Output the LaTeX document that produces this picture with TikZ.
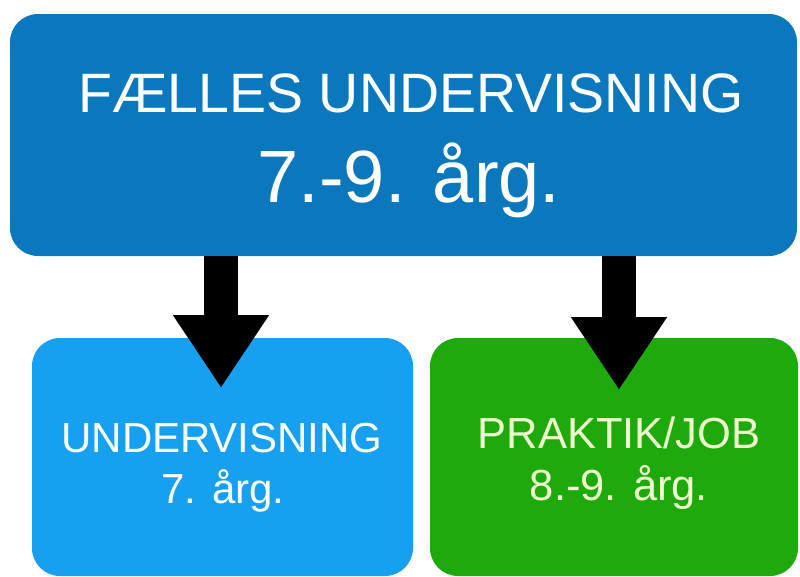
\documentclass[tikz,border=0pt]{standalone}
\usepackage{fontspec}
\setmainfont{Liberation Sans}
\usetikzlibrary{arrows.meta}
\definecolor{topblue}{RGB}{11,120,190}
\definecolor{lightblue}{RGB}{24,160,240}
\definecolor{grn}{RGB}{30,170,12}
\definecolor{grntext}{RGB}{236,255,204}
\begin{document}
\begin{tikzpicture}[x=1pt,y=-1pt,
 box/.style={rounded corners=28pt, inner sep=0pt, outer sep=0pt, draw=none},
 lbl/.style={anchor=base, inner sep=0pt, text=white},
 bigarrow/.style={line width=34pt, -{Triangle[width=91pt,length=73pt]}, draw=black}]
\useasboundingbox (0,0) rectangle (800,576);
\fill[white] (0,0) rectangle (800,576);
\node[box, fill=topblue, minimum width=787pt, minimum height=242pt] (top) at (403.5,135) {};
\node[box, fill=lightblue, minimum width=381pt, minimum height=238pt] (left) at (222.5,457) {};
\node[box, fill=grn, minimum width=368pt, minimum height=238pt] (right) at (614,457) {};
\coordinate (tipL) at (221,388);
\coordinate (tipR) at (619,390);
\draw[bigarrow] (top.south -| tipL) -- (tipL);
\draw[bigarrow] (top.south -| tipR) -- (tipR);
\node[lbl, font=\fontsize{55.5}{60}\selectfont] (t1) at (411,112) {FÆLLES UNDERVISNING};
\node[lbl, font=\fontsize{74}{80}\selectfont] (t2) at (409,202) {7.-9. årg.};
\node[lbl, font=\fontsize{42}{48}\selectfont] (l1) at (222,452) {UNDERVISNING};
\node[lbl, font=\fontsize{42}{48}\selectfont] (l2) at (223,503) {7. årg.};
\node[lbl, text=grntext, font=\fontsize{43.5}{48}\selectfont] (r1) at (619,448) {PRAKTIK/JOB};
\node[lbl, text=grntext, font=\fontsize{43.5}{48}\selectfont] (r2) at (619,500) {8.-9. årg.};
\end{tikzpicture}
\end{document}
